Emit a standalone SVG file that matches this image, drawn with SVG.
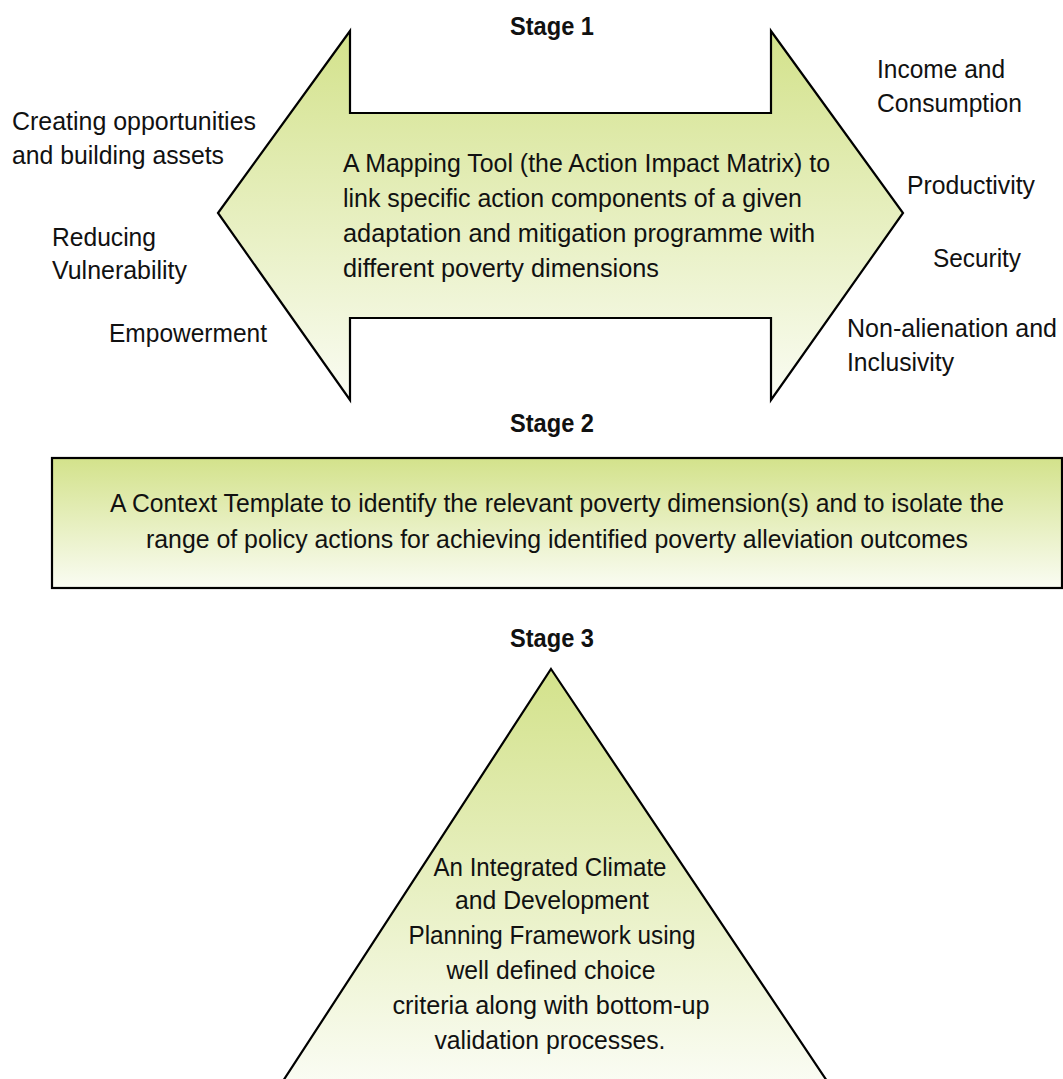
<svg xmlns="http://www.w3.org/2000/svg" width="1063" height="1079" viewBox="0 0 1063 1079">
<defs>
<linearGradient id="g" x1="0" y1="0" x2="0" y2="1">
<stop offset="0" stop-color="#d3e28b"/>
<stop offset="1" stop-color="#fafcf3"/>
</linearGradient>
<style>
text{font-family:"Liberation Sans Narrow","Liberation Sans",Arial,sans-serif;font-size:25px;fill:#111;}
.st{font-weight:bold;text-anchor:middle;}
.c{text-anchor:middle;}
.shape{fill:url(#g);stroke:#000;stroke-width:2.2;stroke-linejoin:miter;}
</style>
</defs>
<rect width="1063" height="1079" fill="#fff"/>
<g id="stage1">
<text class="st" x="552" y="35" textLength="84" lengthAdjust="spacingAndGlyphs">Stage 1</text>
<polygon class="shape" points="218,213 350,31 350,113 771,113 771,31 903,213 771,400 771,318 350,318 350,400"/>
<text x="343" y="172" textLength="487" lengthAdjust="spacingAndGlyphs">A Mapping Tool (the Action Impact Matrix) to</text>
<text x="343" y="207" textLength="459" lengthAdjust="spacingAndGlyphs">link specific action components of a given</text>
<text x="343" y="242" textLength="472" lengthAdjust="spacingAndGlyphs">adaptation and mitigation programme with</text>
<text x="343" y="277" textLength="316" lengthAdjust="spacingAndGlyphs">different poverty dimensions</text>
</g>
<g id="left-labels">
<text x="12" y="130" textLength="244" lengthAdjust="spacingAndGlyphs">Creating opportunities</text>
<text x="12" y="164" textLength="212" lengthAdjust="spacingAndGlyphs">and building assets</text>
<text x="52" y="246" textLength="104" lengthAdjust="spacingAndGlyphs">Reducing</text>
<text x="52" y="279" textLength="135" lengthAdjust="spacingAndGlyphs">Vulnerability</text>
<text x="109" y="342" textLength="158" lengthAdjust="spacingAndGlyphs">Empowerment</text>
</g>
<g id="right-labels">
<text x="877" y="78" textLength="128" lengthAdjust="spacingAndGlyphs">Income and</text>
<text x="877" y="112" textLength="145" lengthAdjust="spacingAndGlyphs">Consumption</text>
<text x="907" y="194" textLength="128" lengthAdjust="spacingAndGlyphs">Productivity</text>
<text x="933" y="267" textLength="88" lengthAdjust="spacingAndGlyphs">Security</text>
<text x="847" y="337" textLength="210" lengthAdjust="spacingAndGlyphs">Non-alienation and</text>
<text x="847" y="371" textLength="107" lengthAdjust="spacingAndGlyphs">Inclusivity</text>
</g>
<g id="stage2">
<text class="st" x="552" y="432" textLength="84" lengthAdjust="spacingAndGlyphs">Stage 2</text>
<rect class="shape" x="52" y="458" width="1010" height="130" stroke-width="3"/>
<text class="c" x="557" y="512" textLength="894" lengthAdjust="spacingAndGlyphs">A Context Template to identify the relevant poverty dimension(s) and to isolate the</text>
<text class="c" x="557" y="548" textLength="822" lengthAdjust="spacingAndGlyphs">range of policy actions for achieving identified poverty alleviation outcomes</text>
</g>
<g id="stage3">
<text class="st" x="552" y="647" textLength="84" lengthAdjust="spacingAndGlyphs">Stage 3</text>
<polygon class="shape" points="551,669 827,1081 283,1081"/>
<text class="c" x="550" y="876" textLength="233" lengthAdjust="spacingAndGlyphs">An Integrated Climate</text>
<text class="c" x="552" y="909" textLength="194" lengthAdjust="spacingAndGlyphs">and Development</text>
<text class="c" x="552" y="944" textLength="287" lengthAdjust="spacingAndGlyphs">Planning Framework using</text>
<text class="c" x="551" y="979" textLength="209" lengthAdjust="spacingAndGlyphs">well defined choice</text>
<text class="c" x="551" y="1014" textLength="317" lengthAdjust="spacingAndGlyphs">criteria along with bottom-up</text>
<text class="c" x="550" y="1049" textLength="231" lengthAdjust="spacingAndGlyphs">validation processes.</text>
</g>
</svg>
